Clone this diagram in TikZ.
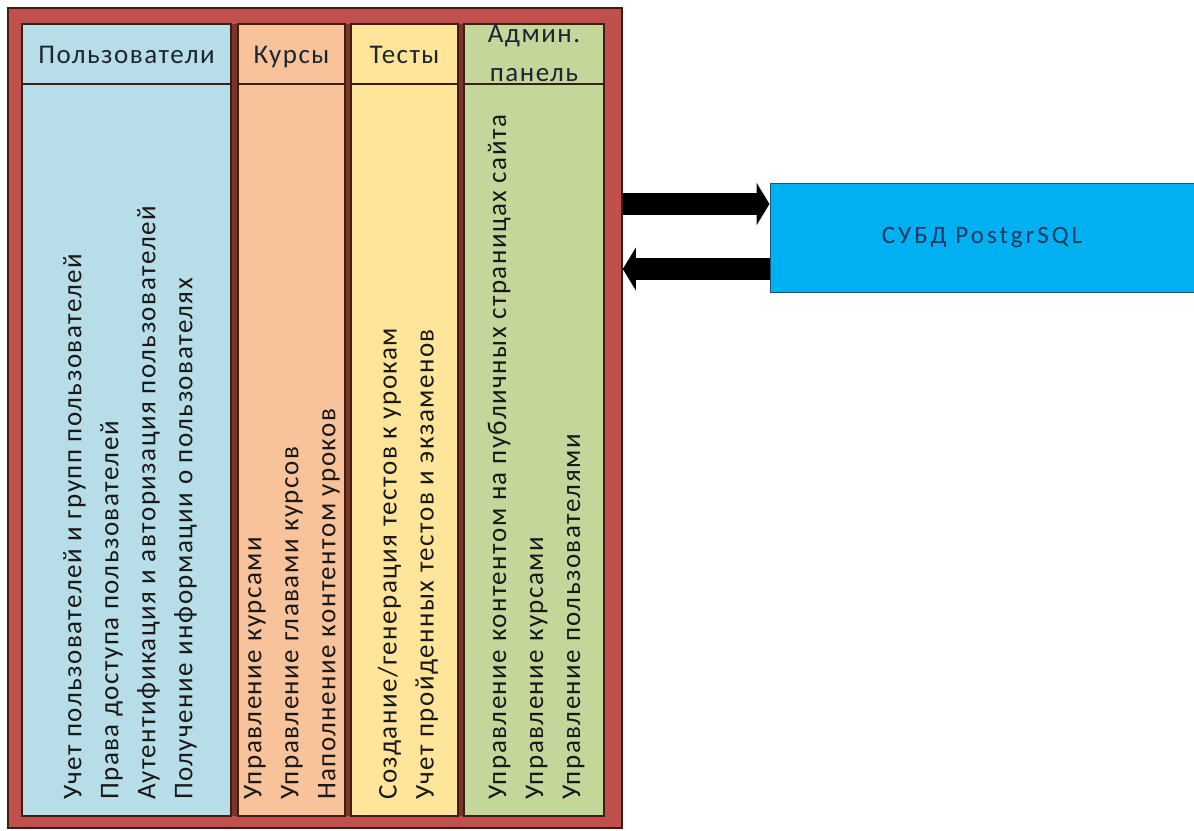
\documentclass[tikz,border=0pt]{standalone}
\usepackage{fontspec}
\setmainfont{Carlito}[LetterSpace=5.5]
\newfontfamily\dbfont{Carlito}[LetterSpace=12]
\usetikzlibrary{arrows.meta}
\definecolor{framered}{HTML}{C0504D}
\definecolor{gapbrown}{HTML}{7B3526}
\definecolor{edgedark}{HTML}{3B1F14}
\definecolor{usersfill}{HTML}{B7DDE8}
\definecolor{coursesfill}{HTML}{F8C29A}
\definecolor{testsfill}{HTML}{FFE599}
\definecolor{adminfill}{HTML}{C4D79B}
\definecolor{dbfill}{HTML}{00B0F0}
\definecolor{dbedge}{HTML}{1F4E79}
\definecolor{dbtext}{HTML}{1F3864}
\definecolor{headtext}{HTML}{1C2630}
\begin{document}
\begin{tikzpicture}[x=1pt,y=-1pt,
  every node/.style={font=\fontsize{27}{37}\selectfont},
  frame/.style={draw=edgedark, line width=1.5pt, fill=framered, minimum width=614pt, minimum height=820pt, inner sep=0pt},
  colbody/.style={draw=edgedark, line width=2pt, minimum height=792pt, inner sep=0pt},
  colhead/.style={draw=edgedark, line width=2pt, minimum height=60pt, inner sep=0pt, align=center, text=headtext, text height=24pt, text depth=6pt},
  coltext/.style={rotate=90, anchor=west, align=left, inner sep=0pt, text=black!90},
  dbbox/.style={draw=dbedge, line width=1pt, fill=dbfill, minimum width=424pt, minimum height=109pt, text=dbtext, font=\dbfont\fontsize{25}{30}\selectfont},
  bigarrow/.style={line width=22pt, -{Triangle[width=42pt,length=13pt]}}
]
\useasboundingbox (0,0) rectangle (1194,830);
\node[frame] (frame) at (315,418) {};
\fill[gapbrown] (229,24) rectangle (466,816);
% columns
\node[colbody, fill=usersfill, minimum width=209pt] (users) at (126.5,420) {};
\node[colbody, fill=coursesfill, minimum width=107pt] (courses) at (291.5,420) {};
\node[colbody, fill=testsfill, minimum width=107pt] (tests) at (404.5,420) {};
\node[colbody, fill=adminfill, minimum width=140pt] (admin) at (534,420) {};
% headers
\node[colhead, minimum width=209pt] (usersh) at (126.5,54) {Пользователи};
\node[colhead, minimum width=107pt] (coursesh) at (291.5,54) {Курсы};
\node[colhead, minimum width=107pt] (testsh) at (404.5,54) {Тесты};
\node[colhead, minimum width=140pt, font=\fontsize{27}{39}\selectfont, text height=57pt, text depth=3pt] (adminh) at (534,54) {Админ.\\панель};
% body texts
\node[coltext] (userst) at (130,800) {Учет пользователей и групп пользователей\\Права доступа пользователей\\Аутентификация и авторизация пользователей\\Получение информации о пользователях};
\node[coltext] (coursest) at (292,800) {Управление курсами\\Управление главами курсов\\Наполнение контентом уроков};
\node[coltext] (testst) at (408,800) {Создание/генерация тестов к урокам\\Учет пройденных тестов и экзаменов};
\node[coltext] (admint) at (536,800) {Управление контентом на публичных страницах сайта\\Управление курсами\\Управление пользователями};
% database
\node[dbbox] (db) at (982,237.5) {СУБД PostgrSQL};
\draw[bigarrow] (frame.east |- 0,204) -- (db.west |- 0,204);
\draw[bigarrow] (db.west |- 0,269) -- (frame.east |- 0,269);
\end{tikzpicture}
\end{document}
